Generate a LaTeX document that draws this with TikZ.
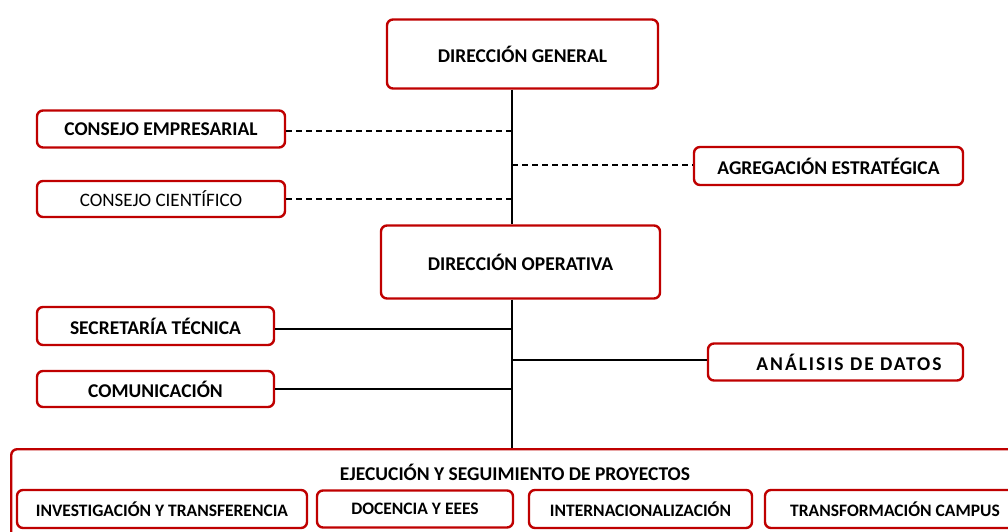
\documentclass[tikz,border=0pt]{standalone}
\usepackage{fontspec}
\setmainfont{Carlito}
\begin{document}
\begin{tikzpicture}[x=1pt,y=-1pt,
  box/.style={draw=red!75!black, line width=2.4pt, rounded corners=6pt, fill=white, inner sep=0pt, font=\bfseries\fontsize{19.5}{22}\selectfont},
  sub/.style={box, font=\bfseries\fontsize{17.5}{20}\selectfont},
  conn/.style={line width=1.6pt, black},
  dconn/.style={conn, dash pattern=on 6pt off 4pt}]
\useasboundingbox (0,0) rectangle (1008,532);
\clip (0,0) rectangle (1008,532);
% big container
\node[box, minimum width=1010pt, minimum height=110pt, anchor=north west] (exec) at (10,448) {};
\node[font=\bfseries\fontsize{19.5}{22}\selectfont, anchor=center] (exect) at (515,472) {EJECUCIÓN Y SEGUIMIENTO DE PROYECTOS};
% top
\node[box, minimum width=271pt, minimum height=69pt] (dg) at (522.5,54) {DIRECCIÓN GENERAL};
\node[box, minimum width=248pt, minimum height=37pt] (ce) at (161,129) {CONSEJO EMPRESARIAL};
\node[box, minimum width=248pt, minimum height=36pt] (cc) at (161,199) {\mdseries\fontsize{19}{22}\selectfont CONSEJO CIENTÍFICO};
\node[box, minimum width=269pt, minimum height=38pt] (ae) at (828.5,166) {AGREGACIÓN ESTRATÉGICA};
\node[box, minimum width=279pt, minimum height=73pt] (do) at (520.5,262) {DIRECCIÓN OPERATIVA};
\node[box, minimum width=237pt, minimum height=38pt] (st) at (155.5,326) {SECRETARÍA TÉCNICA};
\node[box, minimum width=237pt, minimum height=36pt] (co) at (155.5,389) {COMUNICACIÓN};
\node[box, minimum width=255pt, minimum height=37pt] (ad) at (835.5,362) {\hspace*{27pt}\addfontfeatures{LetterSpace=10}ANÁLISIS DE DATOS};
% sub boxes
\node[sub, minimum width=290pt, minimum height=38pt] (it) at (162,509) {INVESTIGACIÓN Y TRANSFERENCIA};
\node[sub, minimum width=196pt, minimum height=37pt] (de) at (415,509) {DOCENCIA Y EEES};
\node[sub, minimum width=223pt, minimum height=38pt] (in) at (640.5,509) {INTERNACIONALIZACIÓN};
\node[sub, minimum width=260pt, minimum height=38pt] (tc) at (895,509) {TRANSFORMACIÓN CAMPUS};
% spine
\coordinate (s1) at (512,131);
\coordinate (s2) at (512,165);
\coordinate (s3) at (512,199);
\coordinate (s4) at (512,329);
\coordinate (s5) at (512,360);
\coordinate (s6) at (512,389);
\draw[conn] (dg.south -| s1) -- (do.north -| s1);
\draw[conn] (do.south -| s1) -- (exec.north -| s1);
\draw[dconn] (ce.east |- s1) -- (s1);
\draw[dconn] (cc.east |- s3) -- (s3);
\draw[dconn] (s2) -- (ae.west |- s2);
\draw[conn] (st.east |- s4) -- (s4);
\draw[conn] (co.east |- s6) -- (s6);
\draw[conn] (s5) -- (ad.west |- s5);
\end{tikzpicture}
\end{document}
